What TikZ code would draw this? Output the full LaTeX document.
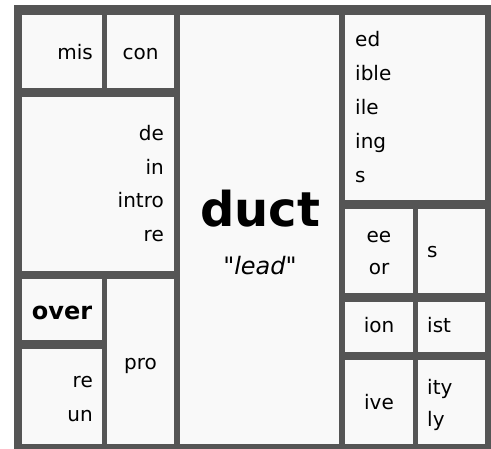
\documentclass[tikz,border=0pt]{standalone}
\usepackage{fontspec}
\setmainfont{DejaVu Sans}[Ligatures=TeXOff]
\definecolor{framegray}{HTML}{555555}
\definecolor{cellbg}{HTML}{F9F9F9}
\tikzset{
  frame/.style={fill=framegray, draw=none, anchor=north west, inner sep=0pt, outer sep=0pt},
  cell/.style={fill=cellbg, draw=none, anchor=north west, inner sep=0pt, outer sep=0pt},
  txt/.style={inner sep=0pt, font=\fontsize{20}{24}\selectfont, text=black},
  boldtxt/.style={inner sep=0pt, font=\fontsize{24}{28}\selectfont\bfseries, text=black},
  bigtxt/.style={inner sep=0pt, font=\fontsize{48}{56}\selectfont\bfseries, text=black},
  ittxt/.style={inner sep=0pt, font=\fontsize{24}{28}\selectfont\itshape, text=black},
}
\begin{document}
\begin{tikzpicture}[x=1pt,y=-1pt]
\useasboundingbox (0,0) rectangle (491,449);
\fill[white] (0,0) rectangle (491,449);
\node[frame, minimum width=477pt, minimum height=443.5pt] (frame) at (14,5.5) {};
% cells
\node[cell, minimum width=80pt, minimum height=73pt] (mis) at (22,15) {};
\node[cell, minimum width=67pt, minimum height=73pt] (con) at (107,15) {};
\node[cell, minimum width=152pt, minimum height=174pt] (de) at (22,97) {};
\node[cell, minimum width=80pt, minimum height=61pt] (over) at (22,279) {};
\node[cell, minimum width=80pt, minimum height=95pt] (reun) at (22,349) {};
\node[cell, minimum width=67pt, minimum height=165pt] (pro) at (107,279) {};
\node[cell, minimum width=159pt, minimum height=429pt] (duct) at (180,15) {};
\node[cell, minimum width=139.5pt, minimum height=185pt] (ed) at (345,15) {};
\node[cell, minimum width=68pt, minimum height=84pt] (eeor) at (345,209) {};
\node[cell, minimum width=66.5pt, minimum height=84pt] (scell) at (418,209) {};
\node[cell, minimum width=68pt, minimum height=50pt] (ion) at (345,302) {};
\node[cell, minimum width=66.5pt, minimum height=50pt] (ist) at (418,302) {};
\node[cell, minimum width=68pt, minimum height=84pt] (ive) at (345,360) {};
\node[cell, minimum width=66.5pt, minimum height=84pt] (ity) at (418,360) {};
% texts
\node[txt, anchor=base east] (tmis) at (93,60) {mis};
\node[txt, anchor=base] (tcon) at (140.5,60) {con};
\node[txt, anchor=base east] (tde) at (164,141) {de};
\node[txt, anchor=base east] (tin) at (164,175) {in};
\node[txt, anchor=base east] (tintro) at (164,208) {intro};
\node[txt, anchor=base east] (tre1) at (164,242) {re};
\node[boldtxt, anchor=base] (tover) at (62,320) {over};
\node[txt, anchor=base east] (tre2) at (93,388) {re};
\node[txt, anchor=base east] (tun) at (93,422) {un};
\node[txt, anchor=base] (tpro) at (140.5,370) {pro};
\node[bigtxt, anchor=base] (tduct) at (260,227) {duct};
\node[ittxt, anchor=base] (tlead) at (260,275) {"lead"};
\node[txt, anchor=base west] (ted) at (355,47) {ed};
\node[txt, anchor=base west] (tible) at (355,81) {ible};
\node[txt, anchor=base west] (tile) at (355,115) {ile};
\node[txt, anchor=base west] (ting) at (355,149) {ing};
\node[txt, anchor=base west] (ts1) at (355,183) {s};
\node[txt, anchor=base] (tee) at (379,243) {ee};
\node[txt, anchor=base] (tor) at (379,275) {or};
\node[txt, anchor=base west] (ts2) at (427,258) {s};
\node[txt, anchor=base] (tion) at (379,333) {ion};
\node[txt, anchor=base west] (tist) at (427,333) {ist};
\node[txt, anchor=base] (tive) at (379,410) {ive};
\node[txt, anchor=base west] (tity) at (427,395) {ity};
\node[txt, anchor=base west] (tly) at (427,427) {ly};
\end{tikzpicture}
\end{document}
